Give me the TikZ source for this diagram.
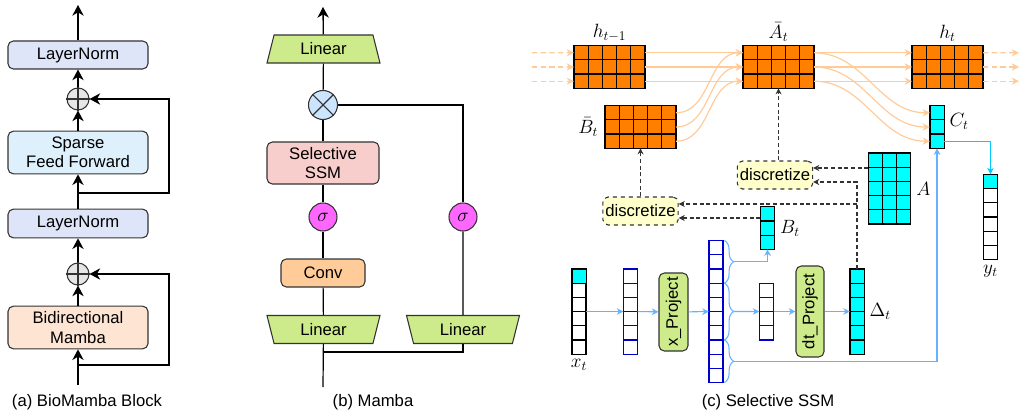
\documentclass[tikz,border=0pt]{standalone}
\usepackage{amsmath}
\usepackage{amssymb}
\usepackage{fontspec}
\setsansfont{Liberation Sans}
\usepackage{tikz}
\usetikzlibrary{arrows.meta,%
                shapes,positioning}
\usetikzlibrary{calc,decorations.pathreplacing}

\definecolor{edgegray}{HTML}{333333}
\definecolor{lnfill}{HTML}{DEE5F8}
\definecolor{sfffill}{HTML}{DEF0FC}
\definecolor{bimfill}{HTML}{FDE4D3}
\definecolor{sumfill}{HTML}{E6E6E6}
\definecolor{linfill}{HTML}{CDEB8B}
\definecolor{ssmfill}{HTML}{F8CECC}
\definecolor{convfill}{HTML}{FFCC99}
\definecolor{sigfill}{HTML}{FF66FF}
\definecolor{mulfill}{HTML}{CCE5FF}
\definecolor{discfill}{HTML}{FFFFCC}
\definecolor{cellorange}{HTML}{FF8000}
\definecolor{cellcyan}{HTML}{00FFFF}
\definecolor{vecblue}{HTML}{0000CC}
\definecolor{flowblue}{HTML}{66B2FF}
\definecolor{peach}{HTML}{FFCC99}
\definecolor{outcyan}{HTML}{00CCFF}

\newlength\cellsz
\setlength\cellsz{10.65pt}
\newcommand{\txtfont}{\sffamily\fontsize{12.5}{14.5}\selectfont}
\newcommand{\labfont}{\fontsize{14.5}{17}\selectfont}

% a block of cells: name, centre, columns, rows, fill, line colour
\newcommand{\cellgrid}[6]{%
  \node[GridStyle, draw=#6, fill=#5, minimum width=#3*\cellsz, minimum height=#4*\cellsz] (#1) at #2 {};
  \draw[GridLine, draw=#6, shift={(#1.south west)}, x=\cellsz, y=\cellsz] (0,0) grid[step=1] (#3,#4);
}
% colour the first cell of a vector
\newcommand{\topcell}[2]{%
  \draw[GridLine, fill=#2] (#1.north west) rectangle ([yshift=-\cellsz]#1.north east);
}

\begin{document}
\begin{tikzpicture}[x=0.75pt, y=-0.75pt]
  \useasboundingbox (0,0) rectangle (1020,417);
  \tikzset{BlockStyle/.style = {draw=edgegray, line width=0.8pt, shape=rectangle, rounded corners=4pt, inner sep=1pt, align=center, font=\txtfont}}
  \tikzset{SumStyle/.style = {draw=edgegray, line width=0.8pt, shape=circle, inner sep=0pt}}
  \tikzset{TrapStyle/.style = {draw=edgegray, line width=0.8pt, fill=linfill, shape=trapezium, trapezium angle=60, trapezium stretches body, minimum width=84.75pt, minimum height=21pt, inner sep=0pt, font=\txtfont}}
  \tikzset{EdgeStyle/.style = {line width=1pt, -{Stealth[length=8pt, width=8.5pt, inset=2.5pt]}}}
  \tikzset{LineStyle/.style = {line width=0.9pt}}
  \tikzset{GridStyle/.style = {line width=0.9pt, shape=rectangle, inner sep=0pt, outer sep=0pt}}
  \tikzset{GridLine/.style = {line width=0.9pt}}
  \tikzset{DiscStyle/.style = {BlockStyle, dashed, fill=discfill, minimum width=56.5pt, minimum height=21pt}}
  \tikzset{DashEdge/.style = {draw=edgegray, line width=0.8pt, dash pattern=on 3pt off 2pt, -{Stealth[length=4.5pt, width=4.5pt]}}}
  \tikzset{FlowEdge/.style = {draw=flowblue, line width=0.8pt, -{Stealth[length=5pt, width=5pt]}}}
  \tikzset{StateEdge/.style = {draw=peach, line width=0.9pt, -{Stealth[length=5.5pt, width=5.5pt]}}}
  \tikzset{BraceStyle/.style = {draw=flowblue, line width=0.8pt, decorate, decoration={brace, amplitude=7pt, raise=1pt}}}
  \tikzset{LabelStyle/.style = {font=\labfont, inner sep=1pt}}

  % (a) block
  \node(bim)[BlockStyle, fill=bimfill, minimum width=105pt, minimum height=32pt] at (78,327.5) {Bidirectional\\Mamba};
  \node(add1)[SumStyle, fill=sumfill, minimum size=16.5pt] at (78,274) {};
  \node(ln1)[BlockStyle, fill=lnfill, minimum width=105pt, minimum height=21.5pt] at (78,223.5) {LayerNorm};
  \node(sff)[BlockStyle, fill=sfffill, minimum width=105pt, minimum height=32pt] at (78,152.5) {Sparse\\Feed Forward};
  \node(add2)[SumStyle, fill=sumfill, minimum size=16.5pt] at (78,99) {};
  \node(ln2)[BlockStyle, fill=lnfill, minimum width=105pt, minimum height=21pt] at (78,55) {LayerNorm};
  \draw[edgegray, line width=0.8pt] (add1.north) -- (add1.south) (add1.west) -- (add1.east);
  \draw[edgegray, line width=0.8pt] (add2.north) -- (add2.south) (add2.west) -- (add2.east);
  \coordinate (ain) at (78,385);
  \coordinate (aout) at (78,5);
  \coordinate (askip1) at (78,365);
  \coordinate (askip1r) at (169,365);
  \coordinate (askip2) at (78,193);
  \coordinate (askip2r) at (169,193);

     \draw[EdgeStyle](ain) -- (bim);
     \draw[EdgeStyle](bim) -- (add1);
     \draw[EdgeStyle](add1) -- (ln1);
     \draw[EdgeStyle](ln1) -- (sff);
     \draw[EdgeStyle](sff) -- (add2);
     \draw[EdgeStyle](add2) -- (ln2);
     \draw[EdgeStyle](ln2) -- (aout);
     \draw[EdgeStyle](askip1) -- (askip1r) |- (add1);
     \draw[EdgeStyle](askip2) -- (askip2r) |- (add2);

  % (b) mamba
  \node(lintop)[TrapStyle] at (323.5,49) {Linear};
  \node(mul)[SumStyle, fill=mulfill, minimum size=21.75pt] at (323,105) {};
  \node(ssm)[BlockStyle, fill=ssmfill, minimum width=84pt, minimum height=31.5pt] at (323,163) {Selective\\SSM};
  \node(sig1)[SumStyle, fill=sigfill, minimum size=21pt, font=\labfont] at (323,217) {$\sigma$};
  \node(conv)[BlockStyle, fill=convfill, minimum width=63pt, minimum height=21pt] at (323,273) {Conv};
  \node(linl)[TrapStyle, shape border rotate=180] at (323.5,329.5) {Linear};
  \node(linr)[TrapStyle, shape border rotate=180] at (463,329.5) {Linear};
  \node(sig2)[SumStyle, fill=sigfill, minimum size=21pt, font=\labfont] at (463,217) {$\sigma$};
  \draw[edgegray, line width=0.8pt] (mul.north west) -- (mul.south east) (mul.north east) -- (mul.south west);
  \coordinate (bin) at (323,387);
  \coordinate (bsplit) at (323,352);
  \coordinate (bout) at (323,7);

     \draw[LineStyle](bin) -- (linl);
     \draw[LineStyle](linl) -- (conv);
     \draw[LineStyle](conv) -- (sig1);
     \draw[LineStyle](sig1) -- (ssm);
     \draw[LineStyle](ssm) -- (mul);
     \draw[LineStyle](mul) -- (lintop);
     \draw[EdgeStyle](lintop) -- (bout);
     \draw[LineStyle](bsplit) -| (linr);
     \draw[LineStyle](linr) -- (sig2);
     \draw[LineStyle](sig2) |- (mul);

  % (c) selective ssm
  \cellgrid{hprev}{(609.5,67)}{5}{3}{cellorange}{black}
  \cellgrid{Bbar}{(640.5,127)}{5}{3}{cellorange}{black}
  \cellgrid{Abar}{(778.5,67)}{5}{3}{cellorange}{black}
  \cellgrid{hcur}{(947.5,67)}{5}{3}{cellorange}{black}
  \cellgrid{Cvec}{(937,127)}{1}{3}{cellcyan}{black}
  \cellgrid{yvec}{(990.5,217)}{1}{6}{white}{black}
  \cellgrid{Amat}{(889.5,188.5)}{3}{5}{cellcyan}{black}
  \cellgrid{Bvec}{(767.5,228)}{1}{3}{cellcyan}{black}
  \cellgrid{xvec}{(579,311.5)}{1}{6}{white}{black}
  \cellgrid{uvec}{(630.5,311.5)}{1}{6}{white}{vecblue}
  \cellgrid{zvec}{(716,311.5)}{1}{10}{white}{vecblue}
  \cellgrid{dvec}{(766.5,311.5)}{1}{4}{white}{vecblue}
  \cellgrid{Dvec}{(857,311.5)}{1}{6}{cellcyan}{black}
  \topcell{xvec}{cellcyan}
  \topcell{yvec}{cellcyan}

  \node(hprevlab)[LabelStyle, above=2pt of hprev]{$h_{t-1}$};
  \node(Abarlab)[LabelStyle, above=2pt of Abar]{$\bar{A}_t$};
  \node(hcurlab)[LabelStyle, above=2pt of hcur]{$h_t$};
  \node(Bbarlab)[LabelStyle, left=4pt of Bbar]{$\bar{B}_t$};
  \node(Clab)[LabelStyle, right=3pt of Cvec, yshift=4pt]{$C_t$};
  \node(Alab)[LabelStyle, right=3pt of Amat]{$A$};
  \node(Blab)[LabelStyle, right=3pt of Bvec]{$B_t$};
  \node(Dlab)[LabelStyle, right=3pt of Dvec]{$\Delta_t$};
  \node(xlab)[LabelStyle, below=3pt of xvec]{$x_t$};
  \node(ylab)[LabelStyle, below=3pt of yvec]{$y_t$};

  \node(xproj)[BlockStyle, fill=linfill, minimum width=21.75pt, minimum height=58.5pt] at (673.5,312) {\rotatebox{90}{x\_Project}};
  \node(dtproj)[BlockStyle, fill=linfill, minimum width=21pt, minimum height=68.25pt] at (810,311.5) {\rotatebox{90}{dt\_Project}};
  \node(disc1)[DiscStyle] at (640.5,211) {discretize};
  \node(disc2)[DiscStyle] at (775,175) {discretize};

  % hidden state paths
  \coordinate (hin1) at (532,52.8);
  \coordinate (hin2) at (532,67);
  \coordinate (hin3) at (532,81.2);
  \coordinate (hout1) at (1019,52.8);
  \coordinate (hout2) at (1019,67);
  \coordinate (hout3) at (1019,81.2);
  \foreach \r/\dy in {1/10.65pt, 2/0pt, 3/-10.65pt}{
    \draw[StateEdge, dash pattern=on 4pt off 2.5pt](hin\r) -- ([yshift=\dy]hprev.west);
    \draw[StateEdge]([yshift=\dy]hprev.east) -- ([yshift=\dy]Abar.west);
    \draw[StateEdge]([yshift=\dy]Bbar.east) to[out=0, in=180] ([yshift=\dy]Abar.west);
    \draw[StateEdge]([yshift=\dy]Abar.east) -- ([yshift=\dy]hcur.west);
    \draw[StateEdge]([yshift=\dy]Abar.east) to[out=0, in=180] ([yshift=\dy]Cvec.west);
    \draw[StateEdge, dash pattern=on 4pt off 2.5pt]([yshift=\dy]hcur.east) -- (hout\r);
  }

  % discretization
  \coordinate (d2a) at ([yshift=5.25pt]disc2.east);
  \coordinate (d2b) at ([yshift=-5.25pt]disc2.east);
  \coordinate (d1a) at ([yshift=5.25pt]disc1.east);
  \coordinate (d1b) at ([yshift=-5.25pt]disc1.east);
     \draw[DashEdge](Abar.south |- disc2.north) -- (Abar.south);
     \draw[DashEdge](disc1) -- (Bbar);
     \draw[DashEdge](d2a -| Amat.west) -- (d2a);
     \draw[DashEdge](Dvec.north) |- (d2b);
     \draw[DashEdge](Dvec.north |- d1a) -- (d1a);
     \draw[DashEdge](d1b -| Bvec.west) -- (d1b);

  % projections
     \draw[FlowEdge](xvec) -- (uvec);
     \draw[FlowEdge](uvec) -- (xproj);
     \draw[FlowEdge](xproj) -- (zvec);
     \draw[BraceStyle](zvec.north east) -- ($(zvec.north east)!0.3!(zvec.south east)$) coordinate[midway, xshift=8pt] (bt1);
     \draw[BraceStyle]($(zvec.north east)!0.3!(zvec.south east)$) -- ($(zvec.north east)!0.7!(zvec.south east)$) coordinate[midway, xshift=8pt] (bt2);
     \draw[BraceStyle]($(zvec.north east)!0.7!(zvec.south east)$) -- (zvec.south east) coordinate[midway, xshift=8pt] (bt3);
     \draw[FlowEdge](bt1) -| (Bvec);
     \draw[FlowEdge](bt2) -- (dvec);
     \draw[FlowEdge](dvec) -- (dtproj);
     \draw[FlowEdge](dtproj) -- (Dvec);
     \draw[FlowEdge](bt3) -| (Cvec);
     \draw[FlowEdge, draw=outcyan]([yshift=-10.65pt]Cvec.east) -| (yvec);

  % captions
  \node(capa)[font=\txtfont] at (87,402) {(a) BioMamba Block};
  \node(capb)[font=\txtfont] at (373,402) {(b) Mamba};
  \node(capc)[font=\txtfont] at (768,402) {(c) Selective SSM};
\end{tikzpicture}
\end{document}
